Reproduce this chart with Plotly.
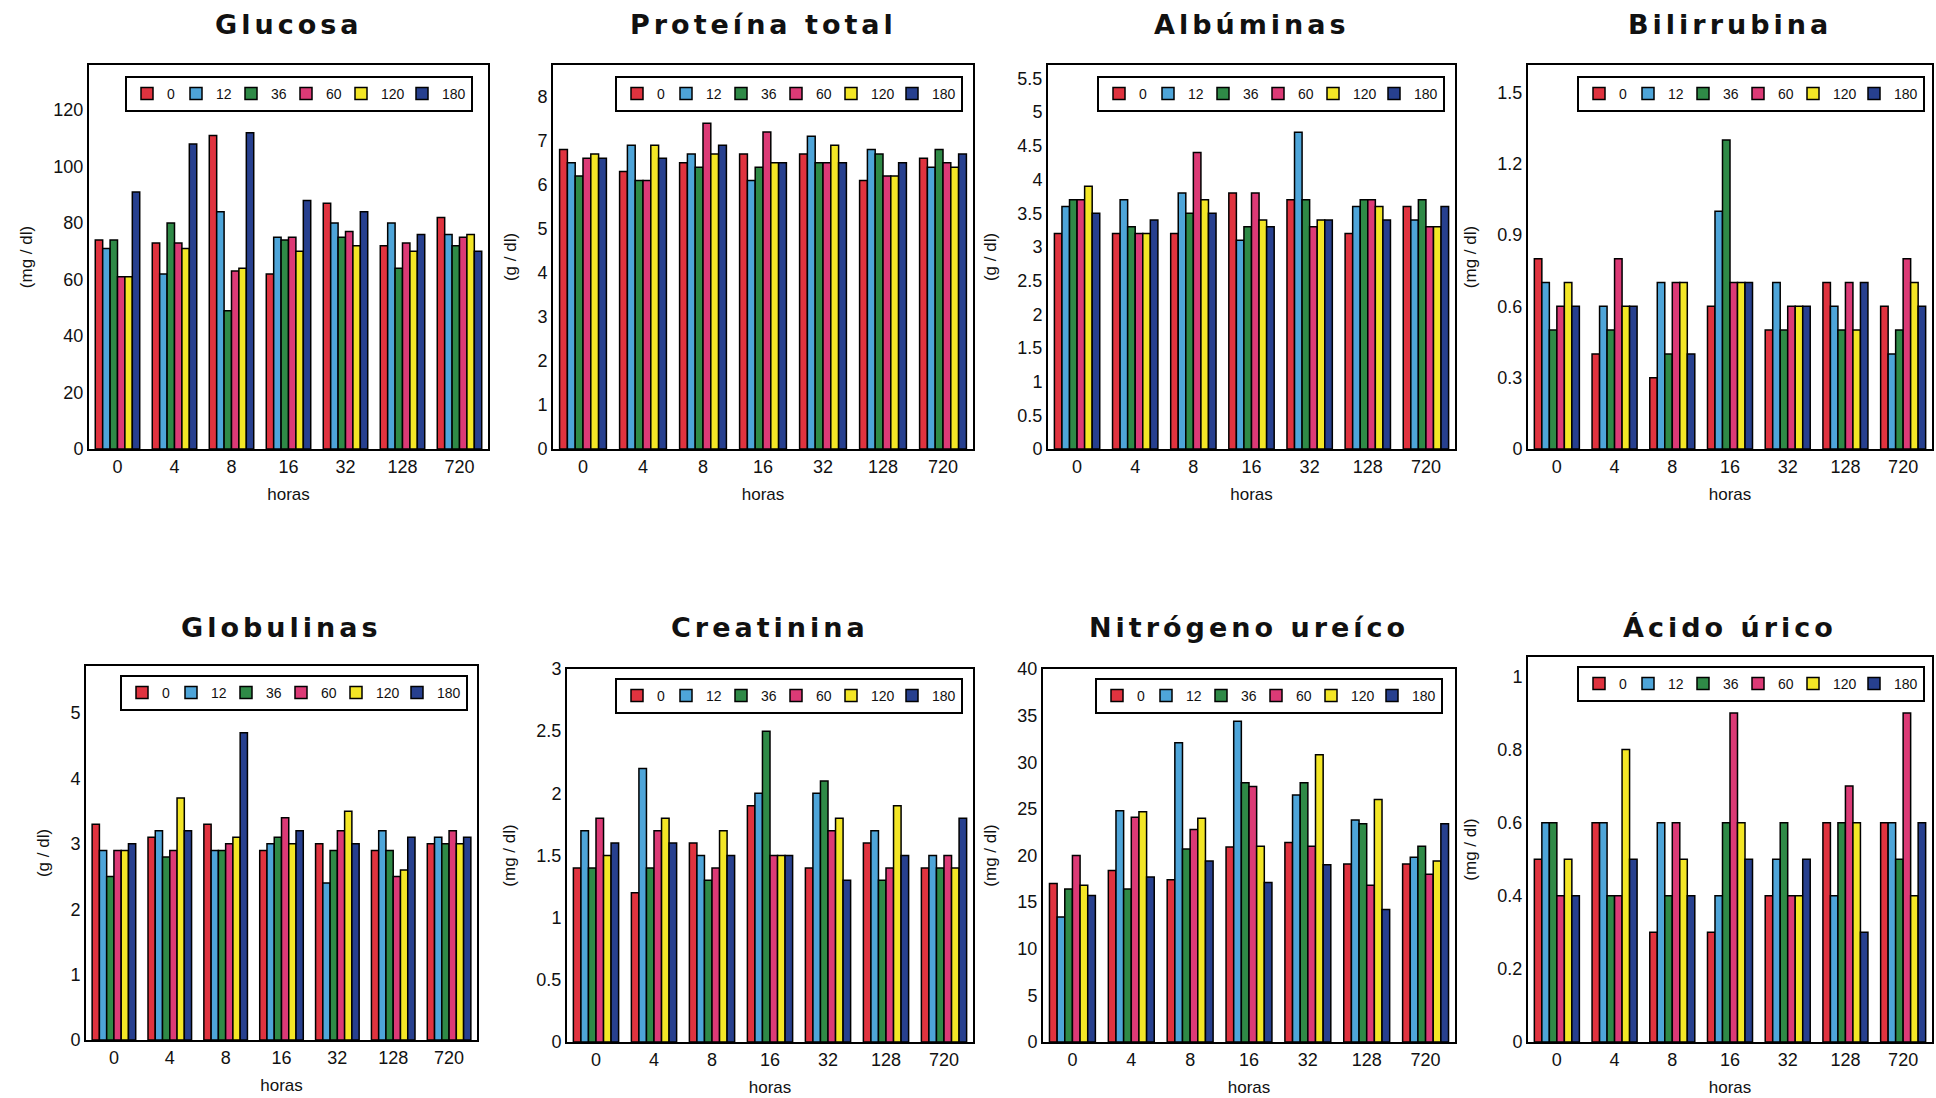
import plotly.graph_objects as go

W, H = 1936, 1098

horas = ["0", "4", "8", "16", "32", "128", "720"]
grupos = ["0", "12", "36", "60", "120", "180"]
colores = ["#e0333f", "#4ea5d9", "#2f8a47", "#dc3a76", "#f3e626", "#27408f"]

# each inner list = one group (0,12,36,60,120,180) across horas
glucosa = [
    [74, 73, 111, 62, 87, 72, 82],
    [71, 62, 84, 75, 80, 80, 76],
    [74, 80, 49, 74, 75, 64, 72],
    [61, 73, 63, 75, 77, 73, 75],
    [61, 71, 64, 70, 72, 70, 76],
    [91, 108, 112, 88, 84, 76, 70],
]
proteina_total = [
    [6.8, 6.3, 6.5, 6.7, 6.7, 6.1, 6.6],
    [6.5, 6.9, 6.7, 6.1, 7.1, 6.8, 6.4],
    [6.2, 6.1, 6.4, 6.4, 6.5, 6.7, 6.8],
    [6.6, 6.1, 7.4, 7.2, 6.5, 6.2, 6.5],
    [6.7, 6.9, 6.7, 6.5, 6.9, 6.2, 6.4],
    [6.6, 6.6, 6.9, 6.5, 6.5, 6.5, 6.7],
]
albuminas = [
    [3.2, 3.2, 3.2, 3.8, 3.7, 3.2, 3.6],
    [3.6, 3.7, 3.8, 3.1, 4.7, 3.6, 3.4],
    [3.7, 3.3, 3.5, 3.3, 3.7, 3.7, 3.7],
    [3.7, 3.2, 4.4, 3.8, 3.3, 3.7, 3.3],
    [3.9, 3.2, 3.7, 3.4, 3.4, 3.6, 3.3],
    [3.5, 3.4, 3.5, 3.3, 3.4, 3.4, 3.6],
]
bilirrubina = [
    [0.8, 0.4, 0.3, 0.6, 0.5, 0.7, 0.6],
    [0.7, 0.6, 0.7, 1.0, 0.7, 0.6, 0.4],
    [0.5, 0.5, 0.4, 1.3, 0.5, 0.5, 0.5],
    [0.6, 0.8, 0.7, 0.7, 0.6, 0.7, 0.8],
    [0.7, 0.6, 0.7, 0.7, 0.6, 0.5, 0.7],
    [0.6, 0.6, 0.4, 0.7, 0.6, 0.7, 0.6],
]
globulinas = [
    [3.3, 3.1, 3.3, 2.9, 3.0, 2.9, 3.0],
    [2.9, 3.2, 2.9, 3.0, 2.4, 3.2, 3.1],
    [2.5, 2.8, 2.9, 3.1, 2.9, 2.9, 3.0],
    [2.9, 2.9, 3.0, 3.4, 3.2, 2.5, 3.2],
    [2.9, 3.7, 3.1, 3.0, 3.5, 2.6, 3.0],
    [3.0, 3.2, 4.7, 3.2, 3.0, 3.1, 3.1],
]
creatinina = [
    [1.4, 1.2, 1.6, 1.9, 1.4, 1.6, 1.4],
    [1.7, 2.2, 1.5, 2.0, 2.0, 1.7, 1.5],
    [1.4, 1.4, 1.3, 2.5, 2.1, 1.3, 1.4],
    [1.8, 1.7, 1.4, 1.5, 1.7, 1.4, 1.5],
    [1.5, 1.8, 1.7, 1.5, 1.8, 1.9, 1.4],
    [1.6, 1.6, 1.5, 1.5, 1.3, 1.5, 1.8],
]
nitrogeno_ureico = [
    [17.0, 18.4, 17.4, 20.9, 21.4, 19.1, 19.1],
    [13.4, 24.8, 32.1, 34.4, 26.5, 23.8, 19.8],
    [16.4, 16.4, 20.7, 27.8, 27.8, 23.4, 21.0],
    [20.0, 24.1, 22.8, 27.4, 21.0, 16.8, 18.0],
    [16.8, 24.7, 24.0, 21.0, 30.8, 26.0, 19.4],
    [15.7, 17.7, 19.4, 17.1, 19.0, 14.2, 23.4],
]
acido_urico = [
    [0.5, 0.6, 0.3, 0.3, 0.4, 0.6, 0.6],
    [0.6, 0.6, 0.6, 0.4, 0.5, 0.4, 0.6],
    [0.6, 0.4, 0.4, 0.6, 0.6, 0.6, 0.5],
    [0.4, 0.4, 0.6, 0.9, 0.4, 0.7, 0.9],
    [0.5, 0.8, 0.5, 0.6, 0.4, 0.6, 0.4],
    [0.4, 0.5, 0.4, 0.5, 0.5, 0.3, 0.6],
]

titulos = ["Glucosa", "Proteína total", "Albúminas", "Bilirrubina",
           "Globulinas", "Creatinina", "Nitrógeno ureíco", "Ácido úrico"]
unidades = ["(mg / dl)", "(g / dl)", "(g / dl)", "(mg / dl)",
            "(g / dl)", "(mg / dl)", "(mg / dl)", "(mg / dl)"]
datos = [glucosa, proteina_total, albuminas, bilirrubina,
         globulinas, creatinina, nitrogeno_ureico, acido_urico]
ymax = [136, 8.72, 5.7, 1.615, 5.72, 3.0, 40, 1.053]
dticks = [20, 1, 0.5, 0.3, 1, 0.5, 5, 0.2]

# layout boxes in pixels: (left, right, top, bottom)
cajas = [(89, 488, 65, 449), (553, 973, 65, 449), (1048, 1455, 65, 449), (1528, 1932, 65, 449),
         (86, 477, 666, 1040), (567, 973, 669, 1042), (1043, 1455, 669, 1042), (1528, 1932, 657, 1042)]
leyendas = [(473, 76), (963, 76), (1445, 76), (1925, 76),
            (468, 675), (963, 678), (1443, 678), (1925, 666)]
titulo_y = [25, 25, 25, 25, 627, 627, 627, 627]
ancho_leyenda = [4, 10, 10, 10, 16, 24]

FONT = "Liberation Sans, Arial, sans-serif"
TFONT = "DejaVu Sans, Liberation Sans, sans-serif"
fig = go.Figure()
layout = {}
annotations = []

for i in range(8):
    n = i + 1
    xa = "x" if n == 1 else f"x{n}"
    ya = "y" if n == 1 else f"y{n}"
    lg = "legend" if n == 1 else f"legend{n}"
    for s in range(6):
        fig.add_trace(go.Bar(
            x=horas, y=datos[i][s], name=grupos[s],
            marker=dict(color=colores[s], line=dict(color="black", width=1.5)),
            xaxis=xa, yaxis=ya, legend=lg, showlegend=True,
            legendwidth=ancho_leyenda[s],
        ))
    l, r, t, b = cajas[i]
    axis_common = dict(showline=True, mirror=True, linecolor="black", linewidth=2,
                       showgrid=False, zeroline=False, ticks="", automargin=False,
                       tickfont=dict(size=18, color="#111", family=FONT))
    layout[f"xaxis{n}" if n > 1 else "xaxis"] = dict(
        domain=[l / W, r / W], anchor=ya, type="category", range=[-0.5, 6.5],
        title=dict(text="horas", font=dict(size=17, color="#111", family=FONT), standoff=13),
        **axis_common)
    layout[f"yaxis{n}" if n > 1 else "yaxis"] = dict(
        domain=[1 - b / H, 1 - t / H], anchor=xa, range=[0, ymax[i]],
        tick0=0, dtick=dticks[i],
        title=dict(text=unidades[i], font=dict(size=17, color="#111", family=FONT), standoff=16),
        **axis_common)
    lx, ly = leyendas[i]
    layout[lg] = dict(
        x=lx / W, y=1 - ly / H, xanchor="right", yanchor="top",
        orientation="h", bgcolor="white", bordercolor="black", borderwidth=2,
        font=dict(size=14, color="#111", family=FONT),
        itemwidth=30, traceorder="normal",
    )
    annotations.append(dict(
        text=f"<span style='letter-spacing:4px'><b>{titulos[i]}</b></span>",
        x=(l + r) / 2 / W, y=1 - titulo_y[i] / H,
        xref="paper", yref="paper", xanchor="center", yanchor="middle",
        showarrow=False, font=dict(size=27, color="#111", family=TFONT)))

fig.update_layout(
    width=W, height=H, margin=dict(l=0, r=0, t=0, b=0),
    paper_bgcolor="white", plot_bgcolor="white",
    barmode="group", bargap=0.22, bargroupgap=0,
    annotations=annotations, font=dict(family=FONT),
    **layout,
)

fig.write_html("out.html", config={"displayModeBar": False},
               post_script="document.body.style.margin='0';document.body.style.overflow='hidden';")
